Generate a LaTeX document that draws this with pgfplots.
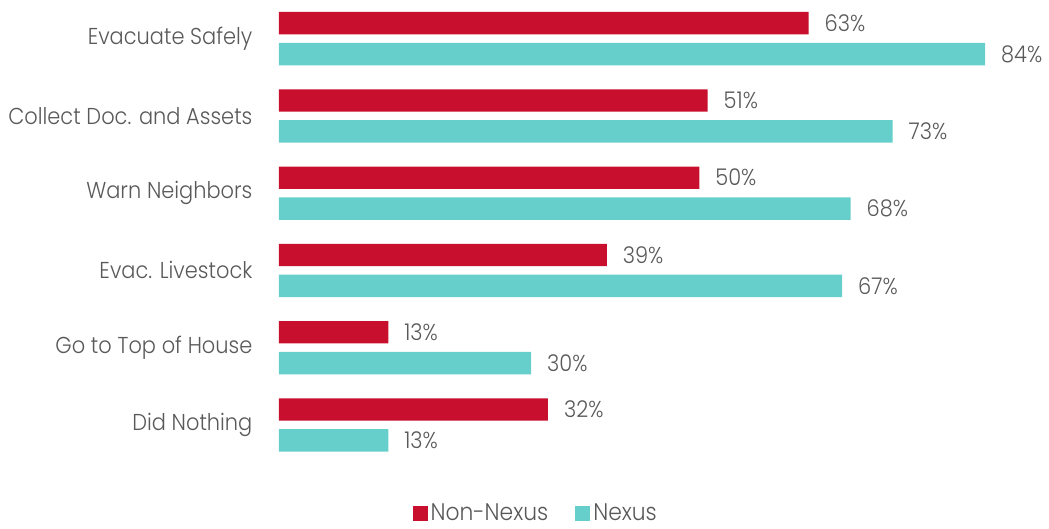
\documentclass[border=0pt]{standalone}
\usepackage{pgfplots}
\pgfplotsset{compat=1.18}
\usepackage{fontspec}
\setmainfont{Poppins}[UprightFont=* Light, FakeStretch=0.91]
\definecolor{cred}{HTML}{C8102E}
\definecolor{cteal}{HTML}{66CFCB}
\definecolor{ctext}{HTML}{595959}
\begin{document}
\begin{tikzpicture}[x=1pt,y=1pt]
\begin{axis}[
  scale only axis,
  width=378.25pt, height=231.8pt,
  xbar,
  xmin=0, xmax=90,
  ymin=-0.5, ymax=5.5,
  y dir=reverse,
  axis line style={draw=none},
  tick style={draw=none},
  xtick=\empty,
  ytick={0,1,2,3,4,5},
  yticklabels={Evacuate Safely,Collect Doc. and Assets,Warn Neighbors,Evac. Livestock,Go to Top of House,Did Nothing},
  yticklabel style={font=\fontsize{11.5}{13}\selectfont, text=ctext, xshift=-5.5pt},
  clip=false,
  bar width=0.29,
  point meta=x,
  nodes near coords={\pgfmathprintnumber{\pgfplotspointmeta}\%},
  nodes near coords style={font=\fontsize{11.5}{13}\selectfont, text=ctext, xshift=4.5pt},
  every node near coord/.append style={/pgf/number format/assume math mode=true},
  legend style={at={(0.34,-0.108)}, anchor=center, draw=none, font=\fontsize{12}{13}\selectfont, text=ctext, legend columns=2, /tikz/every even column/.append style={column sep=12pt}, nodes={inner sep=1.5pt}},
  legend image code/.code={\fill[#1] (0pt,-3.75pt) rectangle (7.5pt,3.75pt);},
]
\addplot[draw=none, fill=cred, bar shift=-0.2] coordinates {(63,0) (51,1) (50,2) (39,3) (13,4) (32,5)};
\addplot[draw=none, fill=cteal, bar shift=0.2] coordinates {(84,0) (73,1) (68,2) (67,3) (30,4) (13,5)};
\legend{Non-Nexus, Nexus}
\end{axis}
\pgfresetboundingbox
\path[use as bounding box] (-139.5pt,-32.7pt) rectangle (385pt,231.8pt);
\end{tikzpicture}
\end{document}
